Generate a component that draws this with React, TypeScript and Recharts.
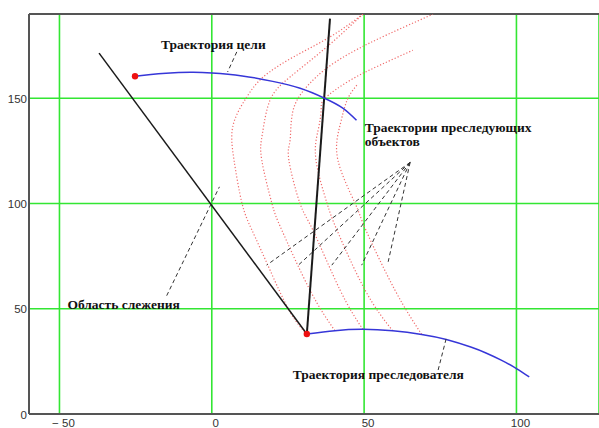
import React from 'react';
import { ComposedChart, Line, Scatter, XAxis, YAxis, CartesianGrid, ReferenceLine } from 'recharts';

// Axis ticks
const xTicks = [-50, 0, 50, 100];
const yTicks = [0, 50, 100, 150];

// Target trajectory ("Траектория цели")
const targetX = [-25.2, -20, -15, -7, 0, 10, 20, 29, 37, 43, 47.5];
const targetY = [160.4, 161.3, 161.9, 162.3, 162, 160.6, 158, 154.7, 150, 145.3, 139.5];

// Pursuer trajectory ("Траектория преследователя")
const pursuerX = [31.2, 40.4, 49.6, 59.4, 68.9, 77, 85, 90, 95, 100, 104.2];
const pursuerY = [38, 39.6, 40.2, 39.5, 37.8, 35.4, 31.8, 29.0, 25.6, 21.6, 17.6];

// Pursuing objects trajectories (red dotted)
const chase1X = [31.2, 25.7, 19.1, 13.2, 9.9, 7.3, 7.0, 11.5, 16.9, 26.8, 38.8, 49.6];
const chase1Y = [38, 48.4, 68.4, 87.3, 100.2, 120.6, 137.2, 150.6, 160.1, 169.6, 179.1, 189.9];
const chase2X = [40.4, 32.2, 23.0, 19.7, 16.4, 16.6, 19.1, 25.7, 37.7, 49.6];
const chase2Y = [39.6, 58.9, 87.3, 100.2, 120.6, 133, 149.0, 160.1, 174.3, 189.9];
const chase3X = [49.6, 42.1, 33.2, 28.9, 25.3, 25.7, 26.7, 32.2, 45.4, 72.6];
const chase3Y = [40.2, 58.9, 87.3, 100.2, 120.6, 130, 144.3, 157.1, 171.4, 189.9];
const chase4X = [59.4, 50.3, 41.1, 37.8, 34.2, 34.9, 35.9, 37.2, 45.4, 55.2, 66.0];
const chase4Y = [39.5, 58.9, 87.3, 100.2, 120.6, 134.8, 144.3, 150, 158.5, 165.7, 172.8];
const chase5X = [68.9, 60.1, 50.6, 47.0, 41.4, 42.1, 44.4, 47.6];
const chase5Y = [37.8, 58.9, 87.3, 100.2, 120.6, 137.2, 149, 156.2];

// Tracking area boundaries (black)
const bound1X = [31.2, -37.0];
const bound1Y = [38, 171.4];
const bound2X = [31.2, 38.8];
const bound2Y = [38, 187.8];

// Start points (red)
const startX = [-25.2, 31.2];
const startY = [160.4, 38];

// Leader lines
const leadTargetX = [8.2, 5.2];
const leadTargetY = [172.0, 162.5];
const leadRegionX = [-14.8, 2.5];
const leadRegionY = [56.2, 107.9];
const leadPursuerX = [74.3, 76.9];
const leadPursuerY = [20.9, 35.6];
const fanApex = [65.1, 119.5];
const fanEndX = [18.0, 28.4, 39.4, 49.2, 57.9];
const fanEndY = [70.7, 70.7, 70.7, 70.7, 72.3];

// Labels
const labelText = ['Траектория цели', 'Траектории преследующих', 'объектов', 'Область слежения', 'Траектория преследователя'];
const labelX = [-16.7, 50.2, 50.2, -47.4, 26.6];
const labelY = [173.3, 134.1, 127.4, 49.8, 16.4];

const pts = (xs: number[], ys: number[]) => xs.map((x, i) => ({ x, y: ys[i] }));

const fmt = (v: number) => (v < 0 ? '\u2212 ' + Math.abs(v) : String(v));

const XTick = (p: any) => (
  <text x={p.x + 4} y={p.y + 12.5} textAnchor="middle" fontFamily="Liberation Sans, Arial, sans-serif" fontSize={11.5} fill="#333">
    {fmt(p.payload.value)}
  </text>
);
const YTick = (p: any) => (
  <text x={p.x - 2} y={p.y + 4.5} textAnchor="end" fontFamily="Liberation Sans, Arial, sans-serif" fontSize={11.5} fill="#333">
    {fmt(p.payload.value)}
  </text>
);

const LabelShape = (p: any) => (
  <text x={p.cx} y={p.cy} fontFamily="Liberation Serif, Times New Roman, serif" fontWeight="bold" fontSize={13.5} fill="#111">
    {p.payload.label}
  </text>
);
const DotShape = (p: any) => <circle cx={p.cx} cy={p.cy} r={3.2} fill="#ee1111" />;

const chases = [pts(chase1X, chase1Y), pts(chase2X, chase2Y), pts(chase3X, chase3Y), pts(chase4X, chase4Y), pts(chase5X, chase5Y)];
const fans = fanEndX.map((x, i) => [{ x: fanApex[0], y: fanApex[1] }, { x, y: fanEndY[i] }]);
const leaders = [pts(leadTargetX, leadTargetY), pts(leadRegionX, leadRegionY), pts(leadPursuerX, leadPursuerY)];
const labels = labelText.map((label, i) => ({ x: labelX[i], y: labelY[i], label }));

export default function App() {
  return (
    <div style={{ position: 'absolute', left: 0, top: 0, width: 599, height: 428, background: '#fff' }}>
      <ComposedChart width={599} height={428} margin={{ top: 14, right: 0, bottom: 0, left: 0 }}>
        <CartesianGrid stroke="#33e633" strokeWidth={1.6} />
        <XAxis type="number" dataKey="x" domain={[-60, 127.1]} ticks={xTicks} allowDataOverflow height={14}
          tickSize={0} tickMargin={0} tick={XTick} axisLine={{ stroke: '#555', strokeWidth: 2 }} />
        <YAxis type="number" dataKey="y" domain={[0, 190]} ticks={yTicks} allowDataOverflow width={29}
          tickSize={0} tickMargin={0} tick={YTick} axisLine={{ stroke: '#555', strokeWidth: 2 }} />
        <ReferenceLine y={190} stroke="#555" strokeWidth={2} />
        {chases.map((d, i) => (
          <Line key={'c' + i} data={d} dataKey="y" type="natural" dot={false} stroke="#f06a6a" strokeWidth={1.2}
            strokeDasharray="1.2 2" isAnimationActive={false} />
        ))}
        <Line data={pts(bound1X, bound1Y)} dataKey="y" type="linear" dot={false} stroke="#1a1a1a" strokeWidth={1.5} isAnimationActive={false} />
        <Line data={pts(bound2X, bound2Y)} dataKey="y" type="linear" dot={false} stroke="#1a1a1a" strokeWidth={2} isAnimationActive={false} />
        <Line data={pts(targetX, targetY)} dataKey="y" type="natural" dot={false} stroke="#3636d8" strokeWidth={1.5} isAnimationActive={false} />
        <Line data={pts(pursuerX, pursuerY)} dataKey="y" type="natural" dot={false} stroke="#3636d8" strokeWidth={1.5} isAnimationActive={false} />
        {fans.map((d, i) => (
          <Line key={'f' + i} data={d} dataKey="y" type="linear" dot={false} stroke="#333" strokeWidth={1}
            strokeDasharray="4 3" isAnimationActive={false} />
        ))}
        {leaders.map((d, i) => (
          <Line key={'l' + i} data={d} dataKey="y" type="linear" dot={false} stroke="#333" strokeWidth={1}
            strokeDasharray="4 3" isAnimationActive={false} />
        ))}
        <Scatter data={pts(startX, startY)} shape={DotShape} isAnimationActive={false} />
        <Scatter data={labels} shape={LabelShape} isAnimationActive={false} />
      </ComposedChart>
    </div>
  );
}
